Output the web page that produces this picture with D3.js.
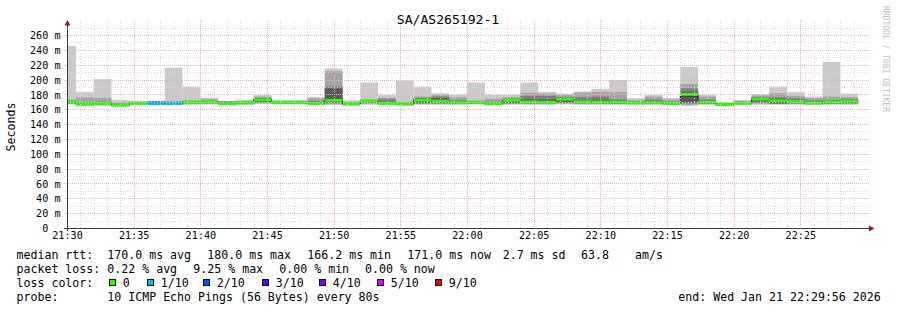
<!DOCTYPE html>
<html><head><meta charset="utf-8">
<script src="https://cdn.jsdelivr.net/npm/d3@7"></script>
<style>
body{margin:0;background:#fff}
text{font-family:"DejaVu Sans Mono",monospace;fill:#000}
</style>
</head><body>
<svg id="chart" width="897" height="310"></svg>
<script>
// ---------------- data ----------------
const title = "SA/AS265192-1";
const yLabel = "Seconds";
const watermark = "RRDTOOL / TOBI OETIKER";

// end time of each 80 s step
const stepEnds = ["21:30:40","21:32:00","21:33:20","21:34:40","21:36:00","21:37:20","21:38:40","21:40:00","21:41:20","21:42:40",
  "21:44:00","21:45:20","21:46:40","21:48:00","21:49:20","21:50:40","21:52:00","21:53:20","21:54:40","21:56:00",
  "21:57:20","21:58:40","22:00:00","22:01:20","22:02:40","22:04:00","22:05:20","22:06:40","22:08:00","22:09:20",
  "22:10:40","22:12:00","22:13:20","22:14:40","22:16:00","22:17:20","22:18:40","22:20:00","22:21:20","22:22:40",
  "22:24:00","22:25:20","22:26:40","22:28:00","22:29:20"];

// sorted ping rtts (ms) per step, ping1 .. ping10
const pings = [
  [166.5,167.5,168,168.5,169,170.5,171,171.5,173,245],
  [164,165.5,166,166.5,166.5,167.5,168,169,176,183.5],
  [164.5,166,166.5,167,167,168.5,169,170,175.5,200.5],
  [164,164.5,164.8,165,165,166,166.5,167,169,172.5],
  [166,166.5,167,167.5,167.5,168.5,169,169.5,170,171],
  [166,166.5,167,167,167,168,169.5,170.5,171,171.5],
  [166,166.5,167,167,167.2,168.2,168.5,169,171,216],
  [166,167,168,168.5,169,170,170.5,171,172,190.5],
  [166.5,167.5,168,168.5,169,170,170.5,171,173.5,175.5],
  [166,166.5,166.8,167,167,168,169.5,170.5,170.5,171],
  [166,166.5,167,167.5,168.5,169.5,170,170.5,171,173],
  [167,168,169,170,172,173,174,175,177,179],
  [166.5,167,167.5,168,168.5,169.5,170,170.5,171,172.5],
  [166.5,167,167.5,168,168.5,169.5,170,170.5,171,172.5],
  [165.5,166.5,167,167.2,167.5,168,169,171,174.5,176.5],
  [165.5,167,168.5,170,171.5,172.5,188,190.5,211,215],
  [165,165.5,166,166.3,166.5,167.5,168,168.5,170,172],
  [166,167.5,168.5,169.5,170.5,171.5,172,172.5,173,196],
  [165.5,166.5,167,167.5,167.8,168.5,170,173.5,175.5,179],
  [165,166,166.3,166.5,166.8,167.3,167.8,168.5,170,198.5],
  [166,167,168,169,171,173,174,175,177,190.5],
  [166,167,168,169,170.5,172,175,177,179,181.5],
  [166,167,167.5,168,168.5,169.5,170.5,172,176,179.5],
  [166.5,167.5,168,168.5,168.8,169.3,169.8,170.5,172,196],
  [165.5,166.5,166.8,167,167.2,167.8,168.5,170,174,179.5],
  [166,167,168,169,171,172.5,173.5,174.5,176,179.5],
  [166,167,168,169,169.5,171,173,178,182,196],
  [166,167,168,168.5,169,170.5,173,178,181,183.5],
  [166.5,167.5,168.5,170,172.5,174,175,176.5,179,181],
  [166,167,168,168.5,169.5,170.5,172,176,182.5,184],
  [166,167,168,168.5,169,170,172,177,183.5,187.5],
  [166,167,167.5,168,169,170,171,173,183,199.5],
  [166,167,167.5,168,168.2,168.8,169.5,170.5,172,175],
  [166,167,167.5,168,168.5,169.5,171,173,177,179],
  [165.5,166.5,166.8,167,167.3,168,168.5,170,173,175],
  [164.5,166,168,169.5,177,181,183,188,194,217],
  [166,167,167.5,168,169,170,171,173,177,179.5],
  [164.5,165,165.3,165.6,165.9,166.5,167,167.5,168,170],
  [166,166.5,167,167.3,167.7,168.3,168.8,169.5,171,172.5],
  [166,167.5,169,170.5,172.5,174,175,176,178.5,180.5],
  [166,167,167.5,168,170,172,174,176,181.5,190.5],
  [166,167,168,169,170,171,172.5,174.5,178,183],
  [166,166.5,167,167.5,168,169,170,172,175,177],
  [166,167,167.5,168.5,169.5,170.5,171.5,172.5,177,224],
  [166,167,168,169,170,171.5,172.5,174,176,181]
];

// median rtt (ms) per step
const median = [170,167,167.7,165.5,168,167.5,167.7,169.5,169.5,167.5,
  169,172.5,169,169,167.7,172,167,171,168,167,
  172,171,169,169,167.5,172,170,169.5,173.5,170,
  169.5,169.5,168.5,169,167.7,180,169.5,166.2,168,173.5,
  171.5,170.5,168.5,170,171];

// packet loss (%) per step
const loss = [0,0,0,0,0,9.25,0.75,0,0,0, 0,0,0,0,0,0,0,0,0,0, 0,0,0,0,0,0,0,0,0,0,
  0,0,0,0,0,0,0,0,0,0, 0,0,0,0,0];

const lossLabels = ["0","1/10","2/10","3/10","4/10","5/10","9/10"];
const lossColors = ["#26ff00","#00b8ff","#0059ff","#5e00ff","#7e00ff","#dd00ff","#ff0000"];
const lossUpper  = [0,1,2,3,4,5,10];   // lost pings (of 10)
const smokeColors = ["#cacaca","#a4a4a4","#7e7e7e","#585858","#323232"];

const yTicks = [0,20,40,60,80,100,120,140,160,180,200,220,240,260];
const xTicks = ["21:30","21:35","21:40","21:45","21:50","21:55","22:00","22:05","22:10","22:15","22:20","22:25"];

const rttStats = ["170.0 ms avg","180.0 ms max","166.2 ms min","171.0 ms now","2.7 ms sd","63.8","am/s"];
const lossStats = ["0.22 % avg","9.25 % max","0.00 % min","0.00 % now"];
const probeText = "10 ICMP Echo Pings (56 Bytes) every 80s";
const endText = "end: Wed Jan 21 22:29:56 2026";

// ---------------- drawing ----------------
const svg = d3.select("#chart");
const parseT = d3.timeParse("%H:%M:%S");
const parseHM = d3.timeParse("%H:%M");
const L = 67, R = 867, B = 228, T = 20.15;
const x = d3.scaleTime().domain([parseT("21:30:00"), parseT("22:30:00")]).range([L, R]);
const y = d3.scaleLinear().domain([0, 280]).range([B, T]);

svg.append("rect").attr("width",897).attr("height",310).attr("fill","#fff");

const steps = stepEnds.map((s,i) => {
  const e = parseT(s);
  const st = new Date(e.getTime() - 80000);
  return {x0: Math.max(L, x(st)), x1: x(e), p: pings[i], m: median[i], l: loss[i]};
});

// smoke
const gs = svg.append("g");
for (let k = 0; k < 5; k++) {
  gs.selectAll(null).data(steps).enter().append("rect")
    .attr("x", d => d.x0).attr("width", d => d.x1 - d.x0)
    .attr("y", d => y(d.p[9-k])).attr("height", d => Math.max(0, y(d.p[k]) - y(d.p[9-k])))
    .attr("fill", smokeColors[k]);
}

// median black line
const pts = [];
steps.forEach(d => { pts.push([d.x0, y(d.m)]); pts.push([d.x1, y(d.m)]); });
svg.append("path").attr("d", d3.line()(pts)).attr("fill","none")
  .attr("stroke","#202020").attr("stroke-width",1);

// loss-coloured median band
function lossColor(l) {
  const lost = l / 100 * 10;
  for (let i = 0; i < lossUpper.length; i++) if (lost <= lossUpper[i]) return lossColors[i];
  return lossColors[lossColors.length-1];
}
svg.append("g").selectAll("rect").data(steps).enter().append("rect")
  .attr("x", d => d.x0).attr("width", d => d.x1 - d.x0)
  .attr("y", d => y(d.m) - 1.4).attr("height", 2.8)
  .attr("fill", d => lossColor(d.l));

// grid
const gg = svg.append("g").attr("shape-rendering","crispEdges");
const minorCol = "#d6d6d6", majorCol = "#f3b3b3";
const minorY = d3.range(10, 280, 10).filter(v => v % 20 !== 0);
gg.selectAll(".hy").data(minorY).enter().append("line")
  .attr("x1", L-3).attr("x2", R+3).attr("y1", d => Math.round(y(d))+0.5).attr("y2", d => Math.round(y(d))+0.5)
  .attr("stroke",minorCol).attr("stroke-dasharray","1,2");
const tStart = parseT("21:30:00");
const minutes = d3.timeMinute.range(tStart, parseT("22:30:00")).filter(t => t.getMinutes() % 5 !== 0);
gg.selectAll(".vx").data(minutes).enter().append("line")
  .attr("x1", d => Math.round(x(d))+0.5).attr("x2", d => Math.round(x(d))+0.5).attr("y1", T).attr("y2", B+2)
  .attr("stroke",minorCol).attr("stroke-dasharray","1,2");
gg.selectAll(".hM").data(yTicks.filter(v => v > 0)).enter().append("line")
  .attr("x1", L-3).attr("x2", R+3).attr("y1", d => Math.round(y(d))+0.5).attr("y2", d => Math.round(y(d))+0.5)
  .attr("stroke",majorCol).attr("stroke-dasharray","1,1");
gg.selectAll(".vM").data(xTicks.slice(1)).enter().append("line")
  .attr("x1", d => Math.round(x(parseHM(d)))+0.5).attr("x2", d => Math.round(x(parseHM(d)))+0.5).attr("y1", T).attr("y2", B+2)
  .attr("stroke",majorCol).attr("stroke-dasharray","1,1");

// axes (library axes for labels)
const yAxis = d3.axisLeft(y).tickValues(yTicks).tickSize(0).tickPadding(0)
  .tickFormat(v => v === 0 ? "0" : v + " m");
const ya = svg.append("g").attr("transform","translate(60.5,0)").call(yAxis);
ya.select(".domain").remove();
ya.selectAll("text").attr("font-size","10.15px").attr("font-family","DejaVu Sans Mono").attr("dy","0.36em")
  .attr("x", v => v === 0 ? -12.2 : 0);

const xAxis = d3.axisBottom(x).tickValues(xTicks.map(parseHM)).tickSize(0).tickPadding(0)
  .tickFormat(d3.timeFormat("%H:%M"));
const xa = svg.append("g").attr("transform","translate(0,"+(B+2)+")").call(xAxis);
xa.select(".domain").remove();
xa.selectAll("text").attr("font-size","10.15px").attr("font-family","DejaVu Sans Mono").attr("dy","9.3px");

// axis lines + arrows
svg.append("line").attr("x1",L+0.5).attr("x2",L+0.5).attr("y1",B+3).attr("y2",24).attr("stroke","#3c3c3c");
svg.append("line").attr("x1",L-3).attr("x2",R+3).attr("y1",B+0.5).attr("y2",B+0.5).attr("stroke","#3c3c3c");
svg.append("path").attr("d",`M${L+0.5-3},25.5L${L+0.5+3},25.5L${L+0.5},20Z`).attr("fill","#a01818");
svg.append("path").attr("d",`M${R+2},${B+0.5-3}L${R+2},${B+0.5+3}L${R+7.5},${B+0.5}Z`).attr("fill","#a01818");

// title, y label, watermark
svg.append("text").attr("x",448).attr("y",24).attr("text-anchor","middle").attr("font-size","13.1px").text(title);
svg.append("text").attr("transform","translate(15,127) rotate(-90)").attr("text-anchor","middle")
  .attr("font-size","11.6px").text(yLabel);
svg.append("text").attr("transform","translate(883,59) rotate(90)").attr("text-anchor","middle")
  .attr("font-size","8px").style("fill","#bdbdbd").text(watermark);

// legend
const lg = svg.append("g").attr("font-size","11.6px");
const rowY = [259, 273, 287, 301];
function put(s, px, py) { lg.append("text").attr("x",px).attr("y",py).attr("xml:space","preserve").text(s); }
put("median rtt:", 16.5, rowY[0]);
[107.3,207.3,307.3,407.3,502.7,581,635].forEach((px,i) => put(rttStats[i], px, rowY[0]));
put("packet loss:", 16.5, rowY[1]);
[107.3,193.3,279.3,365].forEach((px,i) => put(lossStats[i], px, rowY[1]));
put("loss color:", 16.5, rowY[2]);
const boxX = [109,146.7,203.3,261.7,319.3,377.3,435.3];
lossLabels.forEach((s,i) => {
  lg.append("rect").attr("x",Math.round(boxX[i])+0.5).attr("y",rowY[2]-7.5).attr("width",6).attr("height",6)
    .attr("fill",lossColors[i]).attr("stroke","#000").attr("stroke-width",1);
  put(s, Math.round(boxX[i])+13.7, rowY[2]);
});
put("probe:", 16.5, rowY[3]);
put(probeText, 107.3, rowY[3]);
put(endText, 678.3, rowY[3]);
</script>
</body></html>
